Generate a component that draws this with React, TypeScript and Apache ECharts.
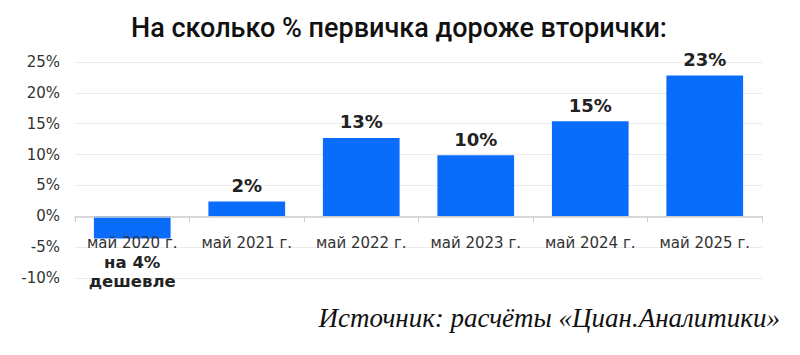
import React, { useEffect, useRef } from "react";
import * as echarts from "echarts";

const categories = ["май 2020 г.", "май 2021 г.", "май 2022 г.", "май 2023 г.", "май 2024 г.", "май 2025 г."];
const values = [-3.6, 2.4, 12.7, 9.9, 15.4, 22.8];
const valueLabels = ["", "2%", "13%", "10%", "15%", "23%"];
const firstNote = ["на 4%", "дешевле"];
const yMin = -10;
const yMax = 25;
const yStep = 5;
const title = "На сколько % первичка дороже вторички:";
const source = "Источник: расчёты «Циан.Аналитики»";

export default function App() {
  const ref = useRef<HTMLDivElement>(null);
  useEffect(() => {
    document.body.style.margin = "0";
    const gridTop = 62;
    const gridBottom = 77;
    const plotH = 355 - gridTop - gridBottom;
    const zeroOffset = (plotH * (0 - yMin)) / (yMax - yMin);
    const chart = echarts.init(ref.current!, null, { renderer: "svg" });
    chart.setOption({
      animation: false,
      title: {
        text: title,
        left: 394,
        textAlign: "center",
        top: 9,
        textStyle: {
          fontFamily: "Roboto, sans-serif",
          fontSize: 27,
          fontWeight: 500,
          color: "#111",
        },
      },
      grid: { left: 75, right: 38, top: gridTop, bottom: gridBottom },
      xAxis: {
        type: "category",
        data: categories,
        z: 5,
        position: "bottom",
        offset: -zeroOffset,
        axisLine: { onZero: false, lineStyle: { color: "#cfcfcf", width: 1.5 } },
        axisTick: { show: true, length: 6, lineStyle: { color: "#cfcfcf" } },
        axisLabel: {
          interval: 0,
          margin: 17,
          fontFamily: "DejaVu Sans",
          fontSize: 15,
          color: "#333",
          lineHeight: 20,
          formatter: (v: string, i: number) =>
            i === 0 ? `${v}\n{b|${firstNote[0]}}\n{b|${firstNote[1]}}` : v,
          rich: {
            b: { fontFamily: "DejaVu Sans", fontSize: 16.5, fontWeight: "bold", color: "#222", lineHeight: 19 },
          },
        },
      },
      yAxis: {
        type: "value",
        min: yMin,
        max: yMax,
        interval: yStep,
        axisLine: { show: false },
        axisTick: { show: false },
        splitLine: { lineStyle: { color: "#ebebeb", width: 1 } },
        axisLabel: {
          margin: 15,
          fontFamily: "DejaVu Sans",
          fontSize: 15,
          color: "#333",
          formatter: (v: number) => `${v}%`,
        },
      },
      series: [
        {
          type: "bar",
          data: values,
          barWidth: "67%",
          itemStyle: { color: "#0a6cfb" },
          label: {
            show: true,
            position: "top",
            distance: 7,
            fontFamily: "DejaVu Sans",
            fontSize: 18,
            fontWeight: "bold",
            color: "#222",
            formatter: (p: any) => valueLabels[p.dataIndex],
          },
        },
      ],
      graphic: [
        {
          type: "text",
          right: 20,
          top: 304,
          style: {
            text: source,
            font: "italic 27px 'Liberation Serif'",
            fill: "#111",
          },
        },
      ],
    });
    return () => chart.dispose();
  }, []);
  return <div ref={ref} style={{ width: 800, height: 355 }} />;
}
